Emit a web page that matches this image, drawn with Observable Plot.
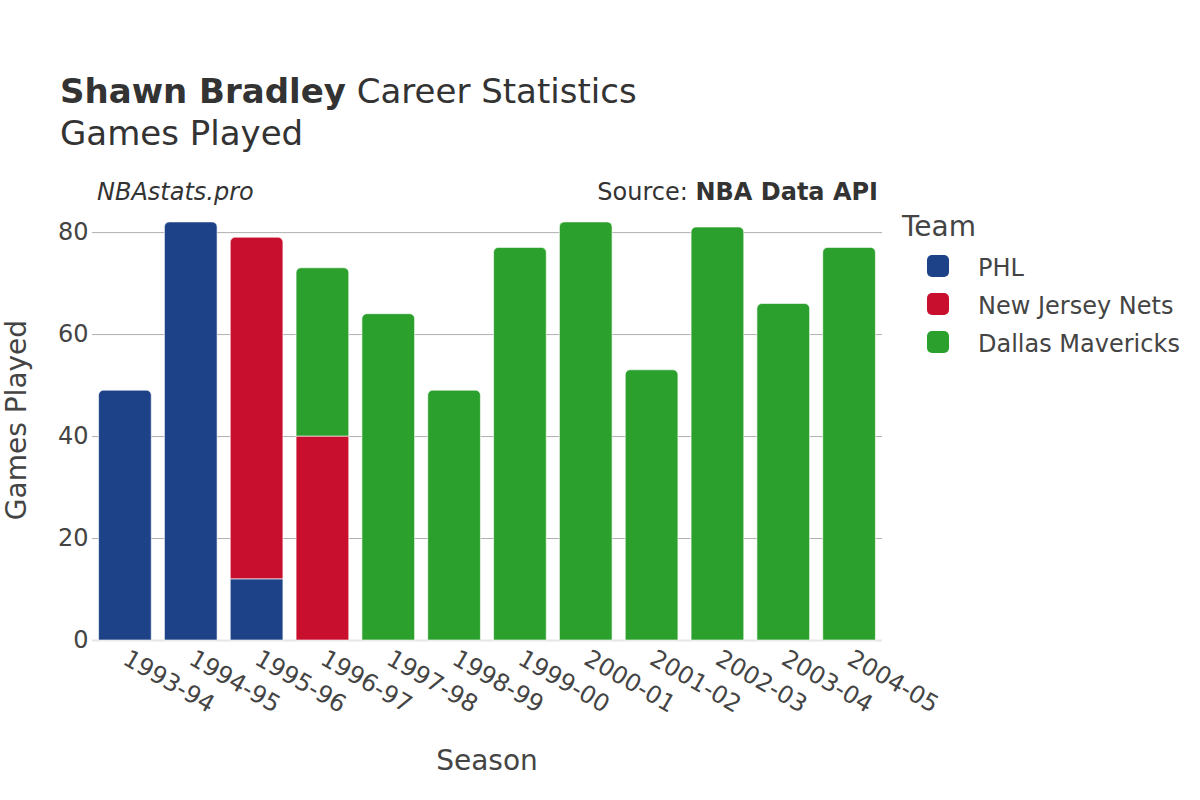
<!DOCTYPE html>
<html>
<head>
<meta charset="utf-8">
<script src="https://cdn.jsdelivr.net/npm/d3@7"></script>
<script src="https://cdn.jsdelivr.net/npm/@observablehq/plot@0.6"></script>
<style>
  html, body { margin: 0; padding: 0; background: #fff; }
  #wrap { position: relative; width: 1200px; height: 800px; font-family: "DejaVu Sans", sans-serif; color: #333; overflow: hidden; }
  #wrap svg { position: absolute; left: 0; top: 0; }
  .t { position: absolute; white-space: nowrap; line-height: 1; }
</style>
</head>
<body>
<div id="wrap"></div>
<script>
const seasons = ["1993-94","1994-95","1995-96","1996-97","1997-98","1998-99","1999-00","2000-01","2001-02","2002-03","2003-04","2004-05"];
const teams = ["PHL", "New Jersey Nets", "Dallas Mavericks"];
const teamColors = ["#1d4287", "#c8102e", "#2ca02c"];
const phlGames = [49, 82, 12, 0, 0, 0, 0, 0, 0, 0, 0, 0];
const njnGames = [0, 0, 67, 40, 0, 0, 0, 0, 0, 0, 0, 0];
const dalGames = [0, 0, 0, 33, 64, 49, 77, 82, 53, 81, 66, 77];
const yTicks = [0, 20, 40, 60, 80];

const series = [phlGames, njnGames, dalGames];
const rows = [];
seasons.forEach((s, i) => {
  let base = 0;
  let lastIdx = -1;
  series.forEach((arr, t) => { if (arr[i] > 0) lastIdx = t; });
  series.forEach((arr, t) => {
    const v = arr[i];
    if (v > 0) {
      rows.push({season: s, team: teams[t], y1: base, y2: base + v, top: t === lastIdx});
      base += v;
    }
  });
});

const maxTotal = d3.max(seasons.map((s, i) => phlGames[i] + njnGames[i] + dalGames[i]));

const chart = Plot.plot({
  width: 1200,
  height: 800,
  marginTop: 201,
  marginBottom: 160,
  marginLeft: 92,
  marginRight: 318,
  style: { fontFamily: "DejaVu Sans, sans-serif", fontSize: "24px", color: "#444", background: "transparent" },
  x: { type: "band", domain: seasons, paddingInner: 0.2, paddingOuter: 0.1, round: false, label: null },
  y: { domain: [0, maxTotal * 1.05], label: null },
  color: { domain: teams, range: teamColors },
  marks: [
    Plot.gridY(yTicks, { stroke: "#b0b0b0", strokeOpacity: 1, strokeWidth: 1 }),
    Plot.ruleY([0], { stroke: "#e6e6e6", strokeWidth: 2 }),
    Plot.barY(rows.filter(d => !d.top), { x: "season", y1: "y1", y2: "y2", fill: "team", stroke: "#ffffff", strokeOpacity: 0.6, strokeWidth: 1 }),
    Plot.barY(rows.filter(d => d.top), { x: "season", y1: "y1", y2: "y2", fill: "team", stroke: "#ffffff", strokeOpacity: 0.6, strokeWidth: 1, ry1: 5, rx1y1: 5, rx2y1: 5 }),
    Plot.axisY(yTicks, { tickSize: 0, tickPadding: 4, fontSize: 24, fill: "#444", label: null }),
    Plot.axisX({ tickSize: 0, tickPadding: 16, tickRotate: 30, fontSize: 24, fill: "#444", label: null })
  ]
});

const wrap = document.getElementById("wrap");
wrap.appendChild(chart);

function addText(html, style) {
  const d = document.createElement("div");
  d.className = "t";
  d.innerHTML = html;
  Object.assign(d.style, style);
  wrap.appendChild(d);
  return d;
}

addText('<b>Shawn Bradley</b> Career Statistics', { left: "60px", top: "74px", fontSize: "34px", color: "#333" });
addText('Games Played', { left: "60px", top: "116px", fontSize: "34px", color: "#333" });
addText('<i>NBAstats.pro</i>', { left: "97px", top: "180px", fontSize: "24px", color: "#333" });
addText('Source: <b>NBA Data API</b>', { right: "322px", top: "180px", fontSize: "24px", color: "#333" });
addText('Season', { left: "487px", top: "747px", fontSize: "28px", color: "#444", transform: "translateX(-50%)" });
addText('Games Played', { left: "17px", top: "420px", fontSize: "28px", color: "#444", transform: "translate(-50%, -50%) rotate(-90deg)" });

addText('Team', { left: "902px", top: "213px", fontSize: "28px", color: "#444" });
teams.forEach((t, i) => {
  const cy = 266 + i * 38;
  const sw = document.createElement("div");
  Object.assign(sw.style, { position: "absolute", left: "927px", top: (cy - 11) + "px", width: "22px", height: "22px", borderRadius: "5px", background: teamColors[i] });
  wrap.appendChild(sw);
  addText(t, { left: "978px", top: (cy - 10) + "px", fontSize: "24px", color: "#444" });
});
</script>
</body>
</html>
